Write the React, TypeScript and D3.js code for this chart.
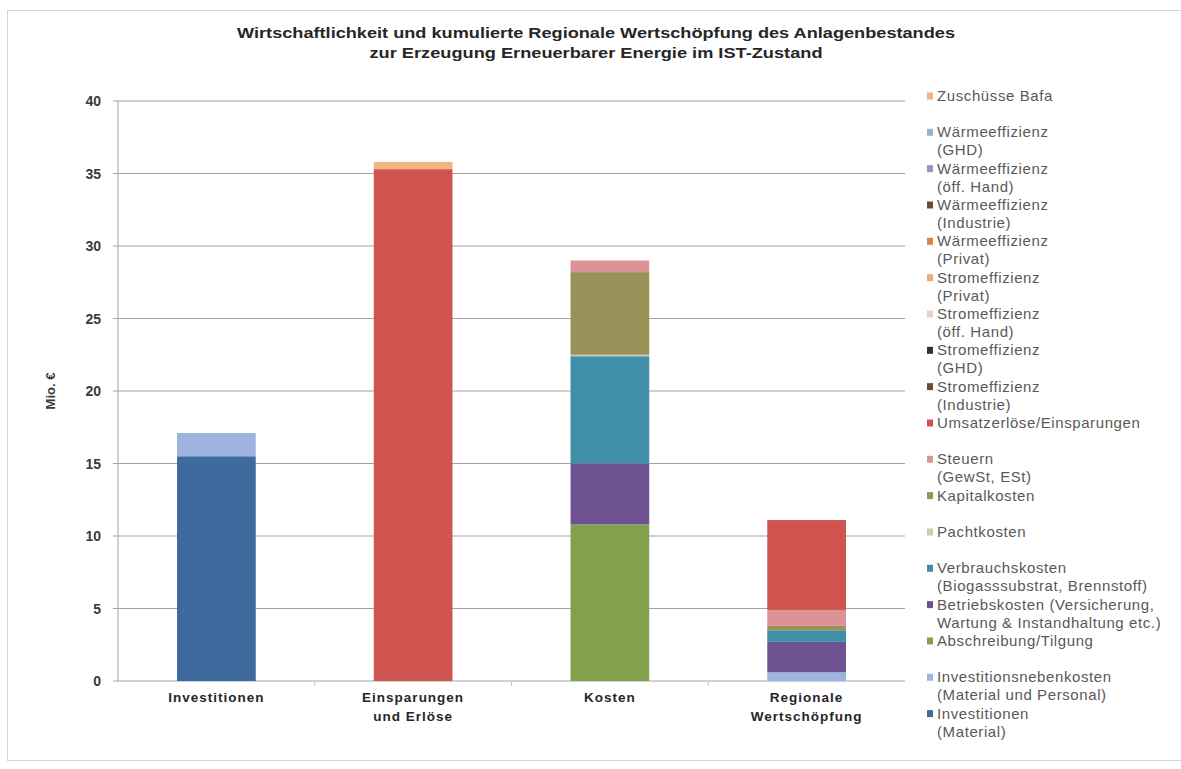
import React from "react";
import * as d3 from "d3";

const categories = ["Investitionen", "Einsparungen\nund Erlöse", "Kosten", "Regionale\nWertschöpfung"];

// series in stacking order (bottom -> top)
const seriesNames = [
  "Investitionen\n(Material)",
  "Investitionsnebenkosten\n(Material und Personal)",
  "Abschreibung/Tilgung",
  "Betriebskosten (Versicherung,\nWartung & Instandhaltung etc.)",
  "Verbrauchskosten\n(Biogasssubstrat, Brennstoff)",
  "Pachtkosten",
  "Kapitalkosten",
  "Steuern\n(GewSt, ESt)",
  "Umsatzerlöse/Einsparungen",
  "Stromeffizienz\n(Industrie)",
  "Stromeffizienz\n(GHD)",
  "Stromeffizienz\n(öff. Hand)",
  "Stromeffizienz\n(Privat)",
  "Wärmeeffizienz\n(Privat)",
  "Wärmeeffizienz\n(Industrie)",
  "Wärmeeffizienz\n(öff. Hand)",
  "Wärmeeffizienz\n(GHD)",
  "Zuschüsse Bafa",
];

const investitionenMaterial = [15.5, 0, 0, 0];
const investitionsnebenkosten = [1.6, 0, 0, 0.6];
const abschreibung = [0, 0, 10.8, 0];
const betriebskosten = [0, 0, 4.2, 2.1];
const verbrauchskosten = [0, 0, 7.4, 0.8];
const pachtkosten = [0, 0, 0.1, 0];
const kapitalkosten = [0, 0, 5.7, 0.3];
const steuern = [0, 0, 0.8, 1.1];
const umsatzerloese = [0, 35.3, 0, 6.2];
const stromIndustrie = [0, 0, 0, 0];
const stromGHD = [0, 0, 0, 0];
const stromOeff = [0, 0, 0, 0];
const stromPrivat = [0, 0, 0, 0];
const waermePrivat = [0, 0, 0, 0];
const waermeIndustrie = [0, 0, 0, 0];
const waermeOeff = [0, 0, 0, 0];
const waermeGHD = [0, 0, 0, 0];
const zuschuesseBafa = [0, 0.5, 0, 0];

const seriesValues = [
  investitionenMaterial, investitionsnebenkosten, abschreibung, betriebskosten,
  verbrauchskosten, pachtkosten, kapitalkosten, steuern, umsatzerloese,
  stromIndustrie, stromGHD, stromOeff, stromPrivat, waermePrivat,
  waermeIndustrie, waermeOeff, waermeGHD, zuschuesseBafa,
];

const seriesColors = [
  "#3f6a9e", "#9db5de", "#83a04a", "#6e5190", "#3f8fa8", "#c5cfb3",
  "#9a9158", "#db9396", "#cf534f", "#6b4a3e", "#3e2a34", "#e6d2c4",
  "#f0aa70", "#d9823f", "#6b4a30", "#9a93b8", "#9cb0c8", "#f4b183",
];

const yTicks = [0, 5, 10, 15, 20, 25, 30, 35, 40];

const titleLines = [
  "Wirtschaftlichkeit und kumulierte Regionale Wertschöpfung des Anlagenbestandes",
  "zur Erzeugung  Erneuerbarer Energie im IST-Zustand",
];
const titleWidths = [718, 453];

export default function App() {
  const W = 1181, H = 769;
  const left = 118, right = 905, top = 101, bottom = 681;
  const font = "'Liberation Sans', Arial, sans-serif";

  const x = d3.scaleBand<number>()
    .domain(categories.map((_, i) => i))
    .range([left, right])
    .paddingInner(0.6)
    .paddingOuter(0.3);
  const y = d3.scaleLinear().domain([0, 40]).range([bottom, top]);

  const table = categories.map((_, ci) => {
    const row: Record<string, number> = {};
    seriesNames.forEach((_, si) => { row["s" + si] = seriesValues[si][ci]; });
    return row;
  });
  const stack = d3.stack<Record<string, number>>().keys(seriesNames.map((_, si) => "s" + si));
  const layers = stack(table);

  const step = x.step();
  const boundaries = [1, 2, 3].map(i => left + x.paddingOuter() * step + i * step - x.paddingInner() * step / 2);

  const legendX = 927;
  const legendY0 = 96;
  const slot = 36.33;
  const legendOrder = seriesNames.map((_, i) => i).reverse();
  const grid = "#a3a3a3";

  return (
    <svg width={W} height={H} style={{ position: "absolute", left: 0, top: 0, background: "#fff" }}>
      <rect x={7.5} y={10.5} width={1178} height={750} fill="#fff" stroke="#d4d4d4" />
      {titleLines.map((t, i) => (
        <text key={i} x={596} y={38 + i * 20} textAnchor="middle" fontFamily={font}
          fontWeight="bold" fontSize={15} fill="#262626" textLength={titleWidths[i]}
          lengthAdjust="spacingAndGlyphs">{t}</text>
      ))}
      {/* gridlines */}
      {yTicks.map(v => (
        <line key={v} x1={left} x2={right} y1={y(v)} y2={y(v)} stroke={grid} strokeWidth={1} />
      ))}
      {/* y axis */}
      <line x1={left} x2={left} y1={top} y2={bottom} stroke={grid} />
      {yTicks.map(v => (
        <g key={"t" + v}>
          <line x1={left - 5} x2={left} y1={y(v)} y2={y(v)} stroke={grid} />
          <text x={101} y={y(v) + 5} textAnchor="end" fontFamily={font} fontWeight="bold"
            fontSize={14} fill="#3a3a3a">{v}</text>
        </g>
      ))}
      <text transform={`translate(55,${(top + bottom) / 2}) rotate(-90)`} textAnchor="middle"
        fontFamily={font} fontWeight="bold" fontSize={13} fill="#3a3a3a">Mio. €</text>
      {/* bars */}
      {layers.map((layer, si) => layer.map((d, ci) => {
        const h = y(d[0]) - y(d[1]);
        if (h <= 0) return null;
        return <rect key={si + "-" + ci} x={x(ci)} y={y(d[1])} width={x.bandwidth()} height={h}
          fill={seriesColors[si]} />;
      }))}
      {/* category ticks */}
      {boundaries.map((bx, i) => (
        <line key={"b" + i} x1={bx} x2={bx} y1={bottom} y2={bottom + 5} stroke="#c4c4c4" />
      ))}
      {categories.map((c, ci) => (
        <text key={"c" + ci} x={(x(ci) as number) + x.bandwidth() / 2} y={702} textAnchor="middle"
          fontFamily={font} fontWeight="bold" fontSize={13.5} letterSpacing={1} fill="#262626">
          {c.split("\n").map((ln, li) => (
            <tspan key={li} x={(x(ci) as number) + x.bandwidth() / 2} dy={li === 0 ? 0 : 19}>{ln}</tspan>
          ))}
        </text>
      ))}
      {/* legend */}
      {legendOrder.map((si, k) => {
        const yy = legendY0 + k * slot;
        const lines = seriesNames[si].split("\n");
        return (
          <g key={"l" + si}>
            <rect x={legendX} y={yy - 3.5} width={6} height={7} fill={seriesColors[si]} />
            {lines.map((ln, li) => (
              <text key={li} x={legendX + 10} y={yy + 5 + li * 18} fontFamily={font} fontSize={15}
                letterSpacing={0.6} fill="#595959">{ln}</text>
            ))}
          </g>
        );
      })}
    </svg>
  );
}
